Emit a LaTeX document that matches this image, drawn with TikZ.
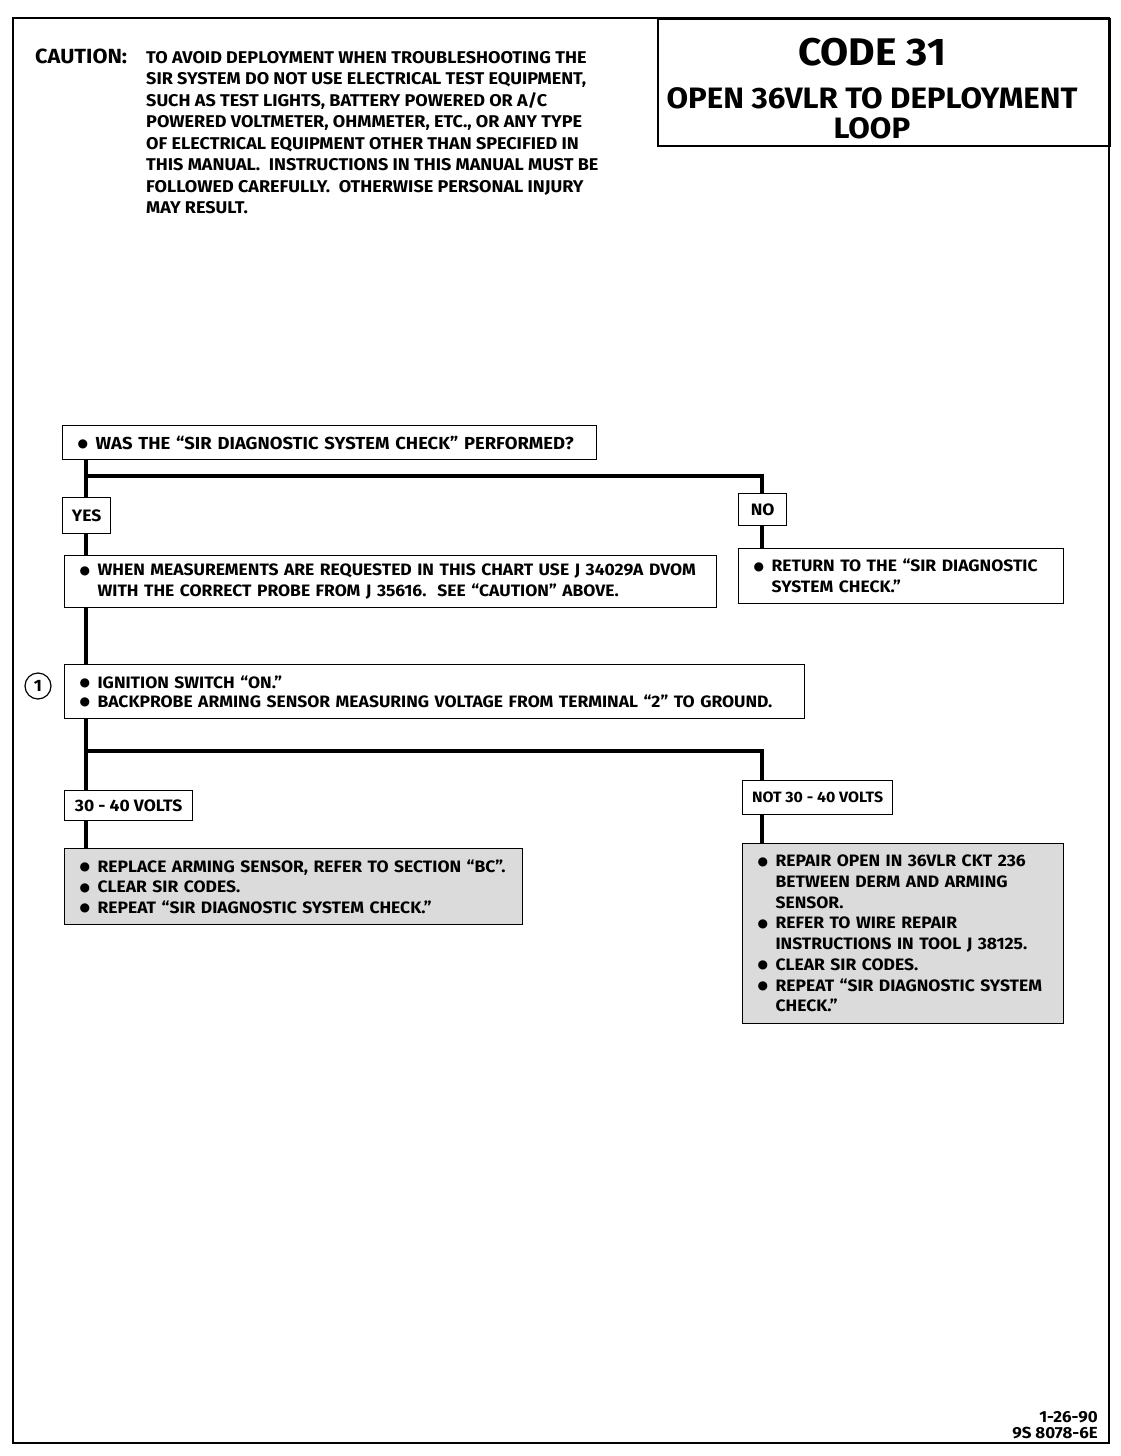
\documentclass[tikz,border=0pt]{standalone}
\usepackage{fontspec}
\setmainfont{Fira Sans}[FakeStretch=1.06]
\newfontfamily\symfont{DejaVu Sans}
\usetikzlibrary{backgrounds,calc}
\newcommand\bul{\makebox[21pt][l]{\hspace{3pt}\raisebox{1.5pt}{\symfont\fontsize{12}{12}\selectfont ●}}}
\newcommand\ind{\hspace*{21pt}}
\begin{document}
\begin{tikzpicture}[x=1pt,y=-1pt,
  every node/.style={font=\bfseries\fontsize{16.5}{21}\selectfont},
  box/.style={draw, line width=1.2pt, fill=white, anchor=north west, inner xsep=12pt, inner ysep=0pt, align=left},
  lab/.style={draw, line width=1.2pt, fill=white, anchor=north west, inner sep=0pt, align=center},
  shade/.style={box, fill=black!14},
  trunk/.style={line width=4.5pt, line join=miter},
  plain/.style={anchor=north west, inner sep=0pt, align=left}]
\useasboundingbox (0,0) rectangle (1120,1456);
% outer frame and title
\draw[line width=2.5pt] (13,18) rectangle (1109,1443);
\node[draw, line width=1.5pt, anchor=north west, minimum width=452pt, minimum height=127pt, inner sep=0pt] (title) at (657,18) {};
\node[font=\bfseries\fontsize{38.5}{40}\selectfont] (code) at (872,52) {CODE 31};
\node[font=\bfseries\fontsize{29.5}{30}\selectfont, align=center, anchor=north] (open) at (872,84) {OPEN 36VLR TO DEPLOYMENT\\LOOP};
\node[plain, font=\bfseries\fontsize{20.5}{20}\selectfont] (caut) at (35,49) {CAUTION:};
\node[plain, font=\bfseries\fontsize{17}{21.5}\selectfont] (cauttext) at (146,51) {TO AVOID DEPLOYMENT WHEN TROUBLESHOOTING THE\\
SIR SYSTEM DO NOT USE ELECTRICAL TEST EQUIPMENT,\\
SUCH AS TEST LIGHTS, BATTERY POWERED OR A/C\\
POWERED VOLTMETER, OHMMETER, ETC., OR ANY TYPE\\
OF ELECTRICAL EQUIPMENT OTHER THAN SPECIFIED IN\\
THIS MANUAL.\ \ INSTRUCTIONS IN THIS MANUAL MUST BE\\
FOLLOWED CAREFULLY.\ \ OTHERWISE PERSONAL INJURY\\
MAY RESULT.};
% flowchart boxes
\node[box, text width=510pt, minimum height=34pt, font=\bfseries\fontsize{17.4}{21}\selectfont] (q1) at (62,425) {\bul WAS THE “SIR DIAGNOSTIC SYSTEM CHECK” PERFORMED?};
\node[lab, minimum width=48pt, minimum height=36pt] (yes) at (62,497) {YES};
\node[lab, minimum width=48pt, minimum height=32pt] (no) at (738,493) {NO};
\node[box, text width=628pt, minimum height=52pt] (meas) at (64,555) {\bul WHEN MEASUREMENTS ARE REQUESTED IN THIS CHART USE J 34029A DVOM\\\ind WITH THE CORRECT PROBE FROM J 35616.\ \ SEE “CAUTION” ABOVE.};
\node[box, text width=301pt, minimum height=55pt] (ret) at (738,548) {\bul RETURN TO THE “SIR DIAGNOSTIC\\\ind SYSTEM CHECK.”};
\node[box, text width=716pt, minimum height=54pt, font=\bfseries\fontsize{16.5}{19}\selectfont] (ign) at (64,664) {\bul IGNITION SWITCH “ON.”\\\bul BACKPROBE ARMING SENSOR MEASURING VOLTAGE FROM TERMINAL “2” TO GROUND.};
\node[draw, line width=1.2pt, circle, minimum size=26pt, inner sep=0pt] (one) at (38,686) {1};
\node[lab, minimum width=128pt, minimum height=30pt] (v3040) at (64,790) {30 - 40 VOLTS};
\node[lab, minimum width=150pt, minimum height=34pt, font=\bfseries\fontsize{15}{18}\selectfont] (not) at (742,780) {NOT 30 - 40 VOLTS};
\node[shade, text width=434pt, minimum height=76pt, font=\bfseries\fontsize{16.5}{20.5}\selectfont] (repl) at (64,848) {\bul REPLACE ARMING SENSOR, REFER TO SECTION “BC”.\\\bul CLEAR SIR CODES.\\\bul REPEAT “SIR DIAGNOSTIC SYSTEM CHECK.”};
\node[shade, text width=297pt, minimum height=180pt, font=\bfseries\fontsize{16.5}{20.7}\selectfont] (rep2) at (742,843) {\bul REPAIR OPEN IN 36VLR CKT 236\\\ind BETWEEN DERM AND ARMING\\\ind SENSOR.\\\bul REFER TO WIRE REPAIR\\\ind INSTRUCTIONS IN TOOL J 38125.\\\bul CLEAR SIR CODES.\\\bul REPEAT “SIR DIAGNOSTIC SYSTEM\\\ind CHECK.”};
\node[anchor=north east, inner sep=0pt, align=right, font=\bfseries\fontsize{16}{16.5}\selectfont] (date) at (1098,1411) {1-26-90\\9S 8078-6E};
% connectors
\coordinate (tx) at (86,0);
\coordinate (nx) at (762,0);
\coordinate (ox) at (762,0);
\begin{pgfonlayer}{background}
\draw[trunk] (q1.south -| tx) -- (yes.north -| tx);
\draw[trunk] (yes.south -| tx) -- (meas.north -| tx);
\draw[trunk] (meas.south -| tx) -- (ign.north -| tx);
\draw[trunk] (ign.south -| tx) -- (v3040.north -| tx);
\draw[trunk] (v3040.south -| tx) -- (repl.north -| tx);
\coordinate (b1) at ($(q1.south -| tx)+(0,16)$);
\draw[trunk] (b1) -| (no.north -| ox);
\draw[trunk] (no.south -| ox) -- (ret.north -| ox);
\coordinate (b2) at ($(ign.south -| tx)+(0,32)$);
\draw[trunk] (b2) -| (not.north -| nx);
\draw[trunk] (not.south -| nx) -- (rep2.north -| nx);
\end{pgfonlayer}
\end{tikzpicture}
\end{document}
